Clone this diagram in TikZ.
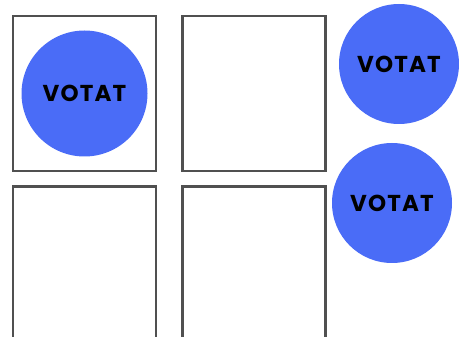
\documentclass[tikz,border=0pt]{standalone}
\usepackage{fontspec}
\setmainfont{Poppins}
\usetikzlibrary{positioning}
\definecolor{voteblue}{RGB}{74,108,247}
\definecolor{boxgray}{RGB}{80,80,80}
\begin{document}
\begin{tikzpicture}[x=1pt,y=-1pt,
    ballot/.style={draw=boxgray, line width=2.4pt, minimum width=143pt, minimum height=155pt, inner sep=0pt},
    stamp/.style={circle, fill=voteblue, inner sep=0pt, text=black,
      font=\bfseries\fontsize{23}{23}\selectfont\addfontfeature{LetterSpace=5}}]
  % Page frame
  \clip (0,0) rectangle (459,337);
  \fill[white] (0,0) rectangle (459,337);

  % Ballot boxes
  \node[ballot] (b1) at (84.5,93.5) {};
  \node[ballot, right=24pt of b1] (b2) {};
  \node[ballot, below=13pt of b1] (b3) {};
  \node[ballot, below=13pt of b2] (b4) {};

  % Stamps
  \node[stamp, minimum size=126pt] (s1) at (b1.center) {VOTAT};
  \node[stamp, minimum size=120pt] (s2) at (399,64) {VOTAT};
  \node[stamp, minimum size=120pt] (s3) at (392,203) {VOTAT};
\end{tikzpicture}
\end{document}
